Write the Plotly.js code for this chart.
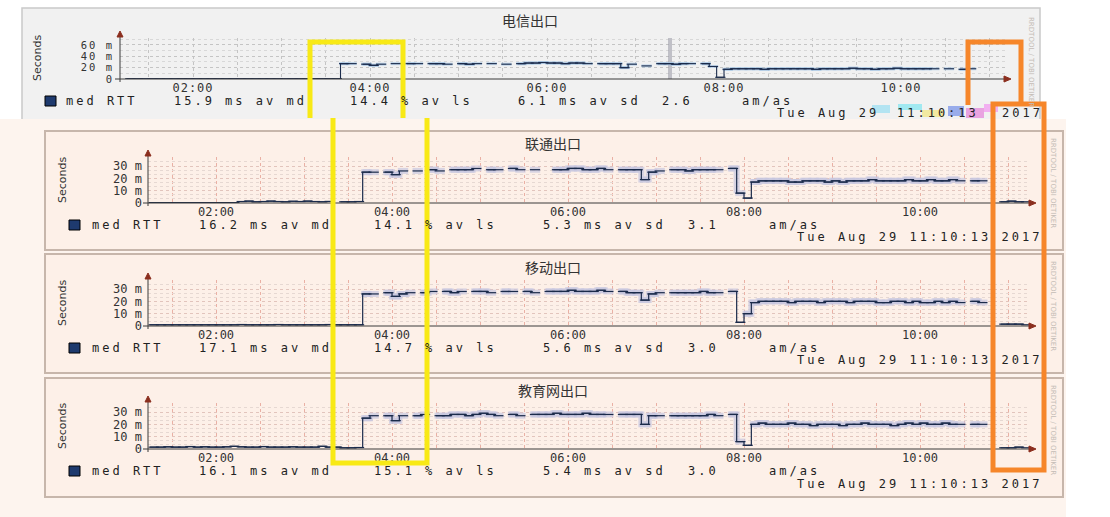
<!DOCTYPE html>
<html><head><meta charset="utf-8">
<script src="https://cdn.plot.ly/plotly-3.0.1.min.js"></script>
<style>
html,body{margin:0;padding:0;background:#fff;overflow:hidden;}
#chart{width:1110px;height:517px;}
.annotation-text[style*="Mono"]{letter-spacing:3px;}
.xtick text{letter-spacing:1px;}
.ytick text{letter-spacing:2px;}
</style></head><body><div id="chart"></div><script>
// ---------------- data ----------------
const startHour = 1.25;          // 01:15, first 5-minute sample
const stepHours = 1 / 12;        // 5-minute RRD step
const tickHours = [2, 4, 6, 8, 10];
const tickLabels = ['02:00', '04:00', '06:00', '08:00', '10:00'];
const panelTitles = ['电信出口', '联通出口', '移动出口', '教育网出口'];
const yTickVals1 = [0, 20, 40, 60];
const yTickText1 = ['0', '20 m', '40 m', '60 m'];
const yTickVals2 = [0, 10, 20, 30];
const yTickText2 = ['0', '10 m', '20 m', '30 m'];
const avMd = ['15.9', '16.2', '17.1', '16.1'];
const avLs = ['14.4', '14.1', '14.7', '15.1'];
const avSd = ['6.1', '5.3', '5.6', '5.4'];
const amAs = ['2.6', '3.1', '3.0', '3.0'];
const stampText = 'Tue Aug 29 11:10:13 2017';
const outageHours = [7.39];

// median RTT (ms), one value per 5 minutes from 01:15 to 11:10
const medDianxin = [
 0.5,0.5,0.5,0.5,0.5,0.5,0.5,0.5,0.5,0.5,
 0.5,0.5,0.5,0.5,0.5,0.5,0.5,0.5,0.5,0.5,
 0.5,0.5,0.5,0.5,0.5,0.5,0.5,0.5,0.5,
 27,27,null,26,24,26,null,27,null,27,
 27,null,27,27,26,null,27,26,27,null,
 27,null,26,null,27,28,28,29,28,28,
 27,28,28,27,null,27,27,27,20,26,
 null,23,null,27,27,26,27,27,null,27,
 22,3,17,
 18,18,18,18,17,18,18,18,18,18,
 18,17,18,18,18,18,19,18,18,17,
 18,18,19,18,18,18,18,18,
 null,18,null,17,18,null,null,null,null,null
];
const medLiantong = [
 0.3,0.3,0.3,0.3,0.3,0.3,0.3,0.3,0.3,0.3,0.3,0.3,
 1.2,1.5,1.0,1.2,1.5,1.2,1.0,1.4,1.2,1.5,1.2,1.0,1.3,null,1.0,1.0,1.2,
 25,25,null,25,23,26,null,26,null,27,
 26,null,27,27,27,28,null,27,27,null,
 28,27,null,27,null,null,27,27,28,28,
 27,27,28,27,null,27,27,27,19,25,
 26,null,27,27,26,27,27,27,27,null,
 28,8,4,
 17,18,18,18,18,17,17,18,18,18,
 17,18,17,18,18,18,19,18,18,18,
 18,19,18,18,19,18,18,19,18,
 null,18,18,null,null,1,1.5,1,1
];
const medYidong = [
 1.0,1.0,1.0,1.0,1.0,1.0,1.0,1.0,1.0,1.0,
 1.0,1.0,1.2,1.0,1.0,1.0,1.0,1.2,1.0,1.0,
 1.0,1.0,1.0,1.0,1.2,1.0,1.0,1.0,1.0,
 26,26,null,27,24,26,27,null,27,28,
 null,28,27,28,null,28,28,27,null,28,
 28,null,28,27,null,28,28,28,29,28,
 28,28,29,28,null,28,27,27,21,26,
 27,null,27,27,27,27,28,27,27,null,
 28,3,10,
 19,20,20,20,20,19,20,20,20,19,
 20,20,20,19,20,20,20,19,19,20,
 20,19,20,19,19,20,19,20,19,
 null,20,19,null,null,1.5,1.5,1.5,1
];
const medJiaoyu = [
 1.5,1.5,1.8,1.5,1.5,2.0,1.5,1.8,1.5,1.5,
 1.8,2.2,1.8,1.5,1.5,2.0,1.5,1.5,1.5,1.8,
 1.5,1.5,1.5,2.2,1.5,1.5,1.0,1.0,1.2,
 25,27,null,27,23,27,null,27,28,null,
 27,27,28,28,27,28,29,28,27,null,
 28,27,null,28,28,28,29,28,28,28,
 29,28,28,28,null,28,28,28,20,27,
 27,null,27,27,27,27,27,28,27,null,
 28,6,3,
 20,21,20,20,20,21,20,20,19,20,
 20,20,19,20,20,21,20,20,20,19,
 20,21,20,21,20,20,21,20,20,
 null,20,20,null,null,1,1,1.5,1
];
const medSeries = [medDianxin, medLiantong, medYidong, medJiaoyu];

// ---------------- layout geometry (pixels) ----------------
const W = 1110, H = 517;
const PX = x => x / W, PY = y => 1 - y / H;
const geo = [
 {box:[22,8,1040,125], fill:'#f1f1f1', border:'#c9c9c9', x0:120, x1:1005, r:[1.175,11.175], bottom:79, top:38, yr:[0,72],
  yv:yTickVals1, yt:yTickText1, yfs:10.5, minorY:10, titleX:530, titleY:20, secX:37, secY:58, legY:101, sqX:45,
  tok:[64,172,348,516,660,740], rrdX:1031, rrdY:62, smokeC:'rgba(170,200,228,0.7)', smokeW:3,
  gridX:'#c4c4c4', gridY:'#c4c4c4', minorYC:'#d8d8d8', medW:1.1},
 {box:[45,131,1063,250], fill:'#fdf0e8', border:'#c7b6ab', x0:148, x1:1030, r:[1.227,11.25], bottom:203, top:157, yr:[0,37.3],
  yv:yTickVals2, yt:yTickText2, yfs:12, minorY:3.333, titleX:553, titleY:143, secX:62, secY:180, legY:225, sqX:69,
  tok:[90,197,372,541,686,767], rrdX:1053, rrdY:183, smokeC:'rgba(198,198,224,0.7)', smokeW:6,
  gridX:'#eab0a4', gridY:'#e2c4bc', minorYC:'#e6d8d2', dateX:795, dateY:237, medW:1.2},
 {box:[45,254,1063,373], fill:'#fdf0e8', border:'#c7b6ab', x0:148, x1:1030, r:[1.227,11.25], bottom:326, top:280, yr:[0,37.3],
  yv:yTickVals2, yt:yTickText2, yfs:12, minorY:3.333, titleX:553, titleY:267, secX:62, secY:303, legY:348, sqX:69,
  tok:[90,197,372,541,686,767], rrdX:1053, rrdY:306, smokeC:'rgba(198,198,224,0.7)', smokeW:6,
  gridX:'#eab0a4', gridY:'#e2c4bc', minorYC:'#e6d8d2', dateX:795, dateY:360, medW:1.2},
 {box:[45,378,1063,497], fill:'#fdf0e8', border:'#c7b6ab', x0:148, x1:1030, r:[1.227,11.25], bottom:449, top:403, yr:[0,37.3],
  yv:yTickVals2, yt:yTickText2, yfs:12, minorY:3.333, titleX:553, titleY:390, secX:62, secY:426, legY:471, sqX:69,
  tok:[90,197,372,541,686,767], rrdX:1053, rrdY:430, smokeC:'rgba(198,198,224,0.7)', smokeW:6,
  gridX:'#eab0a4', gridY:'#e2c4bc', minorYC:'#e6d8d2', dateX:795, dateY:484, medW:1.2}
];

const traces = [], shapes = [], annotations = [];
const layout = {width:W, height:H, margin:{l:0,r:0,t:0,b:0}, paper_bgcolor:'#ffffff',
  plot_bgcolor:'rgba(0,0,0,0)', showlegend:false, bargap:0};

function rect(x0,y0,x1,y1,fill,line,lw,layer,op){
  shapes.push({type:'rect', xref:'paper', yref:'paper', x0:PX(x0), x1:PX(x1), y0:PY(y1), y1:PY(y0),
    fillcolor:fill, line:{color:line||'rgba(0,0,0,0)', width:lw||0}, layer:layer||'below', opacity:op==null?1:op});
}
function path(pts, color, width, fill, close){
  let d = pts.map((p,i)=>(i?'L':'M')+PX(p[0])+','+PY(p[1])).join(' ') + (close?' Z':'');
  shapes.push({type:'path', xref:'paper', yref:'paper', path:d, line:{color:color, width:width},
    fillcolor:fill||'rgba(0,0,0,0)', layer:'above'});
}
function text(x,y,t,o){
  o = o||{};
  annotations.push({xref:'paper', yref:'paper', x:PX(x), y:PY(y), text:t, showarrow:false,
    xanchor:o.xa||'left', yanchor:'middle', textangle:o.ang||0,
    font:{family:o.fam||'DejaVu Sans Mono', size:o.size||12, color:o.color||'#222'}});
}

// backgrounds
rect(...geo[0].box, geo[0].fill, geo[0].border, 1.5);
rect(0,119,1066,517,'#fdf4ee');
for (let k=1;k<4;k++) rect(...geo[k].box, geo[k].fill, geo[k].border, 2);

geo.forEach((g,idx)=>{
  const k = idx+1, sx = k===1?'':String(k);
  const med = medSeries[idx];
  const stepPx = (g.x1-g.x0)/(g.r[1]-g.r[0])*stepHours;
  layout['xaxis'+sx] = {domain:[PX(g.x0),PX(g.x1)], range:g.r, anchor:'y'+sx, tickmode:'array',
    tickvals:tickHours, ticktext:tickLabels, tickfont:{family:'DejaVu Sans Mono', size:12, color:'#333'},
    showgrid:true, gridcolor:g.gridX, griddash:'dot', gridwidth:1, zeroline:false, showline:false, ticks:'',
    minor:{dtick:0.5, tick0:0, showgrid:true, gridcolor:g.gridX, griddash:'dot', gridwidth:1}, fixedrange:true};
  layout['yaxis'+sx] = {domain:[PY(g.bottom),PY(g.top)], range:g.yr, anchor:'x'+sx, tickmode:'array',
    tickvals:g.yv, ticktext:g.yt, tickfont:{family:'DejaVu Sans Mono', size:g.yfs, color:'#333'},
    ticklabelstandoff:5, showgrid:true, gridcolor:g.gridY, griddash:'dot', gridwidth:1, zeroline:false,
    showline:false, ticks:'', minor:{dtick:g.minorY, tick0:0, showgrid:true, gridcolor:g.minorYC, griddash:'dot', gridwidth:1},
    fixedrange:true};
  const xa = 'x'+sx, ya = 'y'+sx;
  if (k===1) {
    traces.push({type:'bar', x:outageHours, y:[g.yr[1]], width:[0.04], marker:{color:'rgba(160,160,172,0.6)', line:{width:0}},
      xaxis:xa, yaxis:ya, hoverinfo:'skip'});
  }
  const smoke = med.map(v => (v !== null && v > 5) ? v : null);
  traces.push({type:'scatter', mode:'lines', x0:startHour, dx:stepHours, y:smoke,
    line:{shape:'hv', width:g.smokeW, color:g.smokeC}, xaxis:xa, yaxis:ya, hoverinfo:'skip'});
  traces.push({type:'scatter', mode:'markers', x0:startHour+stepHours/2, dx:stepHours, y:smoke,
    marker:{symbol:'line-ew', size:stepPx, color:g.smokeC, line:{width:g.smokeW, color:g.smokeC}}, xaxis:xa, yaxis:ya, hoverinfo:'skip'});
  traces.push({type:'scatter', mode:'lines', x0:startHour, dx:stepHours, y:med,
    line:{shape:'hv', width:g.medW, color:'#1b2b4b'}, xaxis:xa, yaxis:ya, hoverinfo:'skip'});
  traces.push({type:'scatter', mode:'markers', x0:startHour+stepHours/2, dx:stepHours, y:med,
    marker:{symbol:'line-ew', size:stepPx, color:'#1b2b4b', line:{width:g.medW, color:'#1b2b4b'}}, xaxis:xa, yaxis:ya, hoverinfo:'skip'});

  // axes with arrows
  path([[g.x0-5,g.bottom],[g.x1,g.bottom]], '#3a3a3a', 1);
  path([[g.x0,g.bottom+3],[g.x0,g.top-3]], '#3a3a3a', 1);
  path([[g.x1-1,g.bottom-3],[g.x1+6,g.bottom],[g.x1-1,g.bottom+3]], '#8b2e1e', 1, '#8b2e1e', true);
  path([[g.x0-3,g.top-1],[g.x0,g.top-7],[g.x0+3,g.top-1]], '#8b2e1e', 1, '#8b2e1e', true);

  // texts
  text(g.titleX, g.titleY, panelTitles[idx], {xa:'center', fam:'Noto Sans CJK SC', size:14, color:'#333'});
  text(g.secX, g.secY, 'Seconds', {xa:'center', fam:'DejaVu Sans', size:11, color:'#333', ang:-90});
  text(g.rrdX, g.rrdY, 'RRDTOOL / TOBI OETIKER', {xa:'center', fam:'DejaVu Sans', size:7, color:'#c4bcb6', ang:90});
  rect(g.sqX, g.legY-5, g.sqX+11, g.legY+5, '#1e3a6e', '#000', 1, 'above');
  const tokens = ['med RTT', avMd[idx]+' ms av md', avLs[idx]+' % av ls', avSd[idx]+' ms av sd', amAs[idx], 'am/as'];
  tokens.forEach((t,j)=>text(g.tok[j], g.legY, t, {size:12, color:'#222'}));
  if (k===1) {
    const parts = stampText.split(' ');
    text(775, 113, parts.slice(0,3).join(' '), {size:12});
    text(895, 113, parts[3], {size:12});
    text(1000, 113, parts[4], {size:12});
  } else {
    text(g.dateX, g.dateY, stampText, {size:12});
  }
});

// scan glitch over first panel's timestamp
[[872,105,890,113,'#7fd8f2'],[898,104,922,110,'#5fe2f0'],[922,110,944,117,'#f2e25c'],
 [948,106,964,116,'#4f72e6'],[966,108,984,118,'#e262d4'],[984,104,998,112,'#f27af0']]
 .forEach(a=>rect(a[0],a[1],a[2],a[3],a[4],null,0,'above',0.55));

// highlight boxes
path([[310,118],[310,42],[403,42],[403,118]], '#f8e915', 5);
path([[333,118],[333,463],[427,463],[427,118]], '#f8e915', 5);
path([[968,105],[968,42],[1021,42],[1021,105]], '#f6862a', 5);
path([[993,104],[993,470],[1044,470],[1044,104]], '#f6862a', 5, null, true);

layout.shapes = shapes;
layout.annotations = annotations;
Plotly.newPlot('chart', traces, layout, {staticPlot:true, displayModeBar:false});
</script></body></html>
